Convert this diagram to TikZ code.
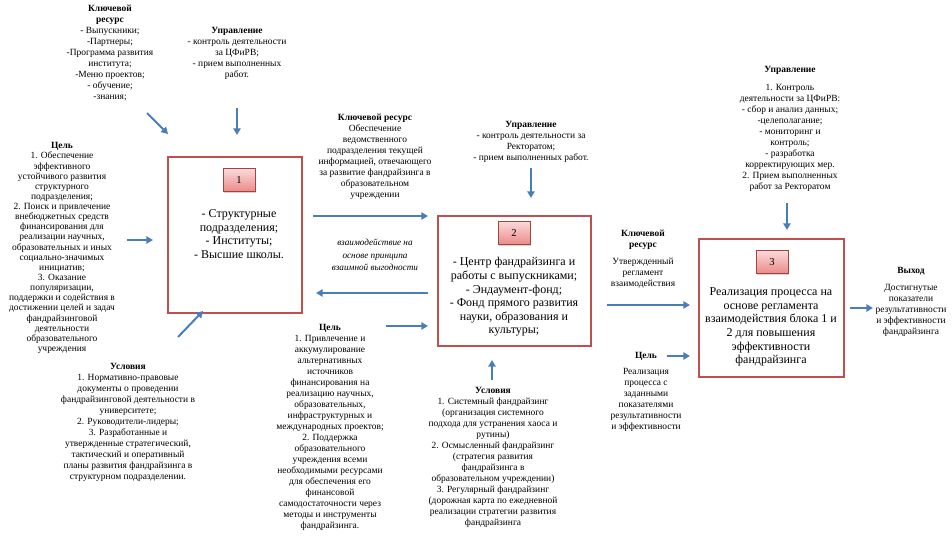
\documentclass[tikz,border=0pt]{standalone}
\usepackage{fontspec}
\setmainfont{Liberation Serif}
\usepackage{tikz}
\usetikzlibrary{positioning,arrows.meta,shadows}
\definecolor{boxred}{HTML}{C0504D}
\definecolor{arrblue}{HTML}{4A7EBB}
\definecolor{pinktop}{HTML}{FBD9D9}
\definecolor{pinkbot}{HTML}{EC8A8A}

\begin{document}
\begin{tikzpicture}[x=0.75pt,y=-0.75pt]
            \tikzset{
                blk node/.style={draw=boxred,line width=1.5pt,inner sep=0},
                num node/.style={draw=boxred!85!black,line width=0.5pt,top color=pinktop,bottom color=pinkbot,
                    minimum width=24pt,minimum height=17.25pt,inner sep=0,font=\fontsize{8}{9}\selectfont,
                    drop shadow={opacity=0.35,shadow xshift=0.8pt,shadow yshift=-0.8pt}},
                txt node/.style={align=center,inner sep=0,font=\fontsize{9}{10.2}\selectfont},
                lbl node/.style={align=center,inner sep=0,font=\fontsize{7.1}{8.25}\selectfont},
                arr/.style={draw=arrblue,line width=1.5pt,-{Triangle[length=5pt,width=5.5pt]}}
            }
            \useasboundingbox (0,0) rectangle (952,538);
            % blocks
            \node[blk node,minimum width=100.5pt,minimum height=117pt] (blk1) at (235,235) {};
            \node[blk node,minimum width=114.75pt,minimum height=97.5pt] (blk2) at (514.5,281) {};
            \node[blk node,minimum width=108.75pt,minimum height=103.5pt] (blk3) at (771.5,308) {};
            \node[num node] (num1) at (239,180) {1};
            \node[num node] (num2) at (514,233) {2};
            \node[num node] (num3) at (772,262) {3};
            \node[txt node] (txt1) at (239,234) {- Структурные\\подразделения;\\- Институты;\\- Высшие школы.};
            \node[txt node] (txt2) at (514,297) {- Центр фандрайзинга и\\работы с выпускниками;\\- Эндаумент-фонд;\\- Фонд прямого развития\\науки, образования и\\культуры;};
            \node[txt node] (txt3) at (771,327) {Реализация процесса на\\основе регламента\\взаимодействия блока 1 и\\2 для повышения\\эффективности\\фандрайзинга};
            % labels
            \node[lbl node] (res1) at (110,53) {\textbf{Ключевой}\\\textbf{ресурс}\\- Выпускники;\\-Партнеры;\\-Программа развития\\института;\\-Меню проектов;\\- обучение;\\-знания;};
            \node[lbl node] (upr1) at (237,53) {\textbf{Управление}\\- контроль деятельности\\за ЦФиРВ;\\- прием выполненных\\работ.};
            \node[lbl node,font=\fontsize{7.1}{7.6}\selectfont] (cel1) at (62,248) {\textbf{Цель}\\1. Обеспечение\\эффективного\\устойчивого развития\\структурного\\подразделения;\\2. Поиск и привлечение\\внебюджетных средств\\финансирования для\\реализации научных,\\образовательных и иных\\социально-значимых\\инициатив;\\3. Оказание\\популяризации,\\поддержки и содействия в\\достижении целей и задач\\фандрайзинговой\\деятельности\\образовательного\\учреждения};
            \node[lbl node] (usl1) at (128,422) {\textbf{Условия}\\1. Нормативно-правовые\\документы о проведении\\фандрайзинговой деятельности в\\университете;\\2. Руководители-лидеры;\\3. Разработанные и\\утвержденные стратегический,\\тактический и оперативный\\планы развития фандрайзинга в\\структурном подразделении.};
            \node[lbl node] (res2) at (375,157) {\textbf{Ключевой ресурс}\\Обеспечение\\ведомственного\\подразделения текущей\\информацией, отвечающего\\за развитие фандрайзинга в\\образовательном\\учреждении};
            \node[lbl node,font=\fontsize{6.9}{9.5}\selectfont\itshape] (vzaim) at (375,255) {взаимодействие на\\основе принципа\\взаимной выгодности};
            \node[lbl node] (cel2) at (330,427) {\textbf{Цель}\\1. Привлечение и\\аккумулирование\\альтернативных\\источников\\финансирования на\\реализацию научных,\\образовательных,\\инфраструктурных и\\международных проектов;\\2. Поддержка\\образовательного\\учреждения всеми\\необходимыми ресурсами\\для обеспечения его\\финансовой\\самодостаточности через\\методы и инструменты\\фандрайзинга.};
            \node[lbl node] (upr2) at (531,142) {\textbf{Управление}\\- контроль деятельности за\\Ректоратом;\\- прием выполненных работ.};
            \node[lbl node] (usl2) at (493,457) {\textbf{Условия}\\1. Системный фандрайзинг\\(организация системного\\подхода для устранения хаоса и\\рутины)\\2. Осмысленный фандрайзинг\\(стратегия развития\\фандрайзинга в\\образовательном учреждении)\\3. Регулярный фандрайзинг\\(дорожная карта по ежедневной\\реализации стратегии развития\\фандрайзинга};
            \node[lbl node] (upr3) at (790,129) {\textbf{Управление}\\[5pt]1. Контроль\\деятельности за ЦФиРВ:\\- сбор и анализ данных;\\-целеполагание;\\- мониторинг и\\контроль;\\- разработка\\корректирующих мер.\\2. Прием выполненных\\работ за Ректоратом};
            \node[lbl node] (res3) at (643,259) {\textbf{Ключевой}\\\textbf{ресурс}\\[4pt]Утвержденный\\регламент\\взаимодействия};
            \node[lbl node] (cel3) at (646,392) {\textbf{Цель}\\[4pt]Реализация\\процесса с\\заданными\\показателями\\результативности\\и эффективности};
            \node[lbl node] (vyhod) at (911,302) {\textbf{Выход}\\[4pt]Достигнутые\\показатели\\результативности\\и эффективности\\фандрайзинга};
            % arrow ends
            \coordinate (a1s) at (147,113);  \coordinate (a1e) at (168,134);
            \coordinate (a2s) at (237,108);  \coordinate (a2e) at (237,135);
            \coordinate (a3s) at (127,240);  \coordinate (a3e) at (153,240);
            \coordinate (a4s) at (178,337);  \coordinate (a4e) at (203,311);
            \coordinate (a5s) at (313,216);  \coordinate (a5e) at (428,216);
            \coordinate (a6s) at (428,293);  \coordinate (a6e) at (316,293);
            \coordinate (a7s) at (386,326);  \coordinate (a7e) at (428,326);
            \coordinate (a8s) at (531,168);  \coordinate (a8e) at (531,198);
            \coordinate (a9s) at (492,380);  \coordinate (a9e) at (492,360);
            \coordinate (a10s) at (787,203); \coordinate (a10e) at (787,230);
            \coordinate (a11s) at (607,305); \coordinate (a11e) at (690,305);
            \coordinate (a12s) at (667,356); \coordinate (a12e) at (690,356);
            \coordinate (a13s) at (850,308); \coordinate (a13e) at (873,308);
            \path
                (a1s) edge[arr] (a1e)
                (a2s) edge[arr] (a2e)
                (a3s) edge[arr] (a3e)
                (a4s) edge[arr] (a4e)
                (a5s) edge[arr] (a5e)
                (a6s) edge[arr] (a6e)
                (a7s) edge[arr] (a7e)
                (a8s) edge[arr] (a8e)
                (a9s) edge[arr] (a9e)
                (a10s) edge[arr] (a10e)
                (a11s) edge[arr] (a11e)
                (a12s) edge[arr] (a12e)
                (a13s) edge[arr] (a13e)
                ;
        \end{tikzpicture}
\end{document}
